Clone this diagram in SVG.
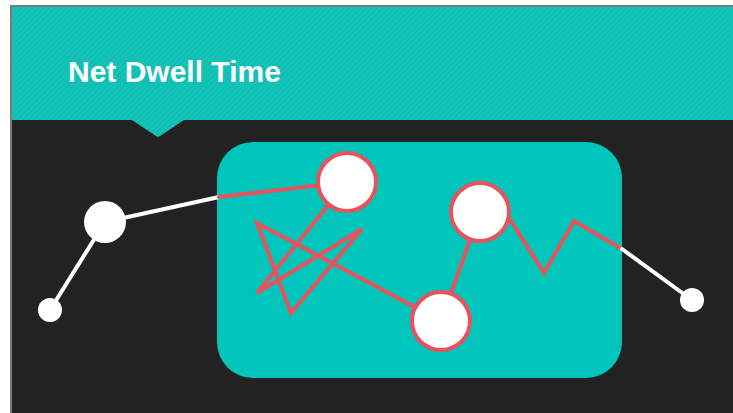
<svg xmlns="http://www.w3.org/2000/svg" width="733" height="413" viewBox="0 0 733 413">
  <defs>
    <pattern id="stripes" width="4" height="4" patternUnits="userSpaceOnUse" patternTransform="rotate(45)">
      <rect width="4" height="4" fill="#14c4b8"/>
      <rect width="1.3" height="4" fill="#0cb5aa" opacity="0.6"/>
    </pattern>
    <style>
      .red { fill: none; stroke: #e8525c; stroke-width: 4; stroke-linejoin: miter; stroke-linecap: round; }
      .white { fill: none; stroke: #ffffff; stroke-width: 4; stroke-linecap: round; }
      .bignode { fill: #ffffff; stroke: #e8525c; stroke-width: 4; }
      .wnode { fill: #ffffff; }
      .title { font-family: "Liberation Sans", Arial, sans-serif; font-weight: bold; font-size: 30px; fill: #ffffff; }
    </style>
  </defs>
  <rect x="0" y="0" width="733" height="413" fill="#ffffff"/>
  <rect x="10" y="5" width="723" height="408" fill="#7a7a7a"/>
  <rect x="12" y="7" width="721" height="406" fill="#222222"/>
  <g id="header">
    <path d="M12 7 H733 V120 H184 L160 136 Q158 137.5 156 136 L132 120 H12 Z" fill="url(#stripes)"/>
    <text class="title" x="68" y="82">Net Dwell Time</text>
  </g>
  <g id="zone">
    <rect x="217" y="142" width="405" height="236" rx="36" ry="36" fill="#00c5ba"/>
  </g>
  <g id="connectors">
    <line class="white" x1="50" y1="310" x2="105" y2="222"/>
    <line class="white" x1="105" y1="222" x2="219" y2="197"/>
    <polyline class="red" points="219,197 347,182"/>
    <polyline class="red" points="347,182 257,293 362,229 291,313 257,223 441,321"/>
    <line class="red" x1="441" y1="321" x2="480" y2="212"/>
    <polyline class="red" points="480,212 511,221 544,273 574,221 622,249"/>
    <line class="white" x1="622" y1="249" x2="692" y2="300"/>
  </g>
  <g id="node-start"><circle class="wnode" cx="50" cy="310" r="12"/></g>
  <g id="node-a"><circle class="wnode" cx="105" cy="222" r="21"/></g>
  <g id="node-1"><circle class="bignode" cx="347" cy="182" r="29"/></g>
  <g id="node-2"><circle class="bignode" cx="480" cy="212" r="29"/></g>
  <g id="node-3"><circle class="bignode" cx="441" cy="321" r="29"/></g>
  <g id="node-end"><circle class="wnode" cx="692" cy="300" r="12"/></g>
</svg>
